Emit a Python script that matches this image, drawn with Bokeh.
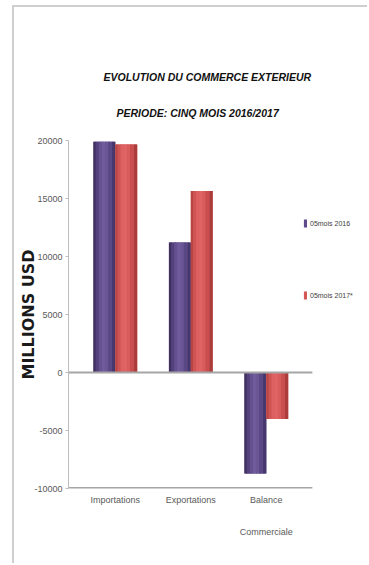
from bokeh.plotting import figure
from bokeh.models import (Range1d, LinearAxis, FixedTicker, Title,
                          Legend, LegendItem)
from bokeh.embed import file_html
from bokeh.resources import INLINE

# Data (millions USD)
categories = ["Importations", "Exportations", "Balance"]
categories_line2 = ["", "", "Commerciale"]
series_names = ["05mois 2016", "05mois 2017*"]
values_2016 = [19900, 11200, -8700]
values_2017 = [19650, 15650, -4000]
y_ticks = [-10000, -5000, 0, 5000, 10000, 15000, 20000]
y_tick_labels = ["-10000", "-5000", "0", "5000", "10000", "15000", "20000"]

FONT = "Liberation Sans"
TICK_COLOR = "#595959"
LINE_GREY = "#a6a6a6"

# cylinder-like shading, left edge -> right edge
purple_base = "#5f4b8b"
red_base = "#d45656"
purple_shades = ["#3f305f", "#53417c", "#65518f", "#705c9c", "#6a5695", "#5a4885", "#46376c"]
red_shades = ["#b84444", "#cf5555", "#de6161", "#e06464", "#d95c5c", "#c94f4f", "#ab3c3c"]

# category axis spans x_lo..x_hi; the frame continues to the right to hold the legend
x_lo, x_hi = -0.62, 2.61
p = figure(width=355, height=558,
           x_range=Range1d(x_lo, 3.34), y_range=Range1d(-10000, 20000),
           x_axis_type=None, y_axis_type=None,
           output_backend="svg", toolbar_location=None,
           min_border_left=54, min_border_right=2,
           min_border_top=133, min_border_bottom=77)
p.outline_line_color = None
p.xgrid.visible = False
p.ygrid.visible = False
p.background_fill_color = "white"
p.border_fill_color = "white"
p.styles = {"margin-left": "12px", "margin-top": "5px",
            "border-left": "2px solid #cfcfcf", "border-top": "2px solid #cfcfcf"}

# bars: a solid base, then vertical strips on top for a rounded look
bar_w = 0.29
n = len(purple_shades)
strip_w = bar_w / n
xs = list(range(len(categories)))
renderers = []
for vals, base, shades, shift in ((values_2016, purple_base, purple_shades, -bar_w / 2),
                                  (values_2017, red_base, red_shades, bar_w / 2)):
    bx = [x + shift for x in xs]
    base_r = p.vbar(x=bx, width=bar_w, top=vals, bottom=0,
                    fill_color=base, line_color=None)
    renderers.append(base_r)
    for i, c in enumerate(shades):
        sx = [x + shift - bar_w / 2 + (i + 0.5) * strip_w for x in xs]
        p.vbar(x=sx, width=strip_w * (1.6 if 0 < i < n - 1 else 1.0), top=vals, bottom=0,
               fill_color=c, line_color=None)

# zero line and bottom baseline of the category axis
p.segment(x0=[x_lo, x_lo], y0=[0, -10000], x1=[x_hi, x_hi], y1=[0, -10000],
          line_color=LINE_GREY, line_width=[2, 3])

# y axis
yax = LinearAxis(ticker=FixedTicker(ticks=y_ticks),
                 major_label_overrides=dict(zip(y_ticks, y_tick_labels)))
yax.axis_label = "MILLIONS USD"
yax.axis_label_text_font = "DejaVu Sans"
yax.axis_label_text_font_style = "bold"
yax.axis_label_text_font_size = "16px"
yax.axis_label_text_color = "#1a1a1a"
yax.axis_label_standoff = -7
yax.axis_line_color = "#bdbdbd"
yax.major_tick_line_color = "#bdbdbd"
yax.major_tick_out = 3
yax.major_tick_in = 0
yax.minor_tick_line_color = None
yax.major_label_text_font = FONT
yax.major_label_text_font_size = "9px"
yax.major_label_text_color = TICK_COLOR
yax.major_label_standoff = 3
p.add_layout(yax, "left")

# x axis (first label line)
xax = LinearAxis(ticker=FixedTicker(ticks=xs),
                 major_label_overrides=dict(zip(xs, categories)))
xax.axis_line_color = None
xax.major_tick_line_color = None
xax.minor_tick_line_color = None
xax.major_label_text_font = FONT
xax.major_label_text_font_size = "9px"
xax.major_label_text_color = TICK_COLOR
xax.major_label_standoff = 0
p.add_layout(xax, "below")

# second label line
xax2 = LinearAxis(ticker=FixedTicker(ticks=xs),
                  major_label_overrides=dict(zip(xs, categories_line2)))
xax2.axis_line_color = None
xax2.major_tick_line_color = None
xax2.minor_tick_line_color = None
xax2.major_label_text_font = FONT
xax2.major_label_text_font_size = "9px"
xax2.major_label_text_color = TICK_COLOR
xax2.major_label_standoff = 13
p.add_layout(xax2, "below")

# titles
t2 = Title(text="PERIODE: CINQ MOIS 2016/2017", align="left", offset=48,
           text_font=FONT, text_font_style="bold italic",
           text_font_size="10.5px", text_color="#111111", standoff=44)
t1 = Title(text="EVOLUTION  DU  COMMERCE  EXTERIEUR", align="left", offset=35,
           text_font=FONT, text_font_style="bold italic",
           text_font_size="10.5px", text_color="#111111", standoff=0)
p.add_layout(t2, "above")
p.add_layout(t1, "above")

legend = Legend(items=[LegendItem(label=series_names[0], renderers=[renderers[0]]),
                       LegendItem(label=series_names[1], renderers=[renderers[1]])],
                location=(235, 188), orientation="vertical",
                glyph_width=4, glyph_height=10, label_height=10,
                label_standoff=3, spacing=62, padding=0, margin=0,
                border_line_color=None, background_fill_alpha=0,
                label_text_font=FONT, label_text_font_size="7px",
                label_text_color="#404040")
p.add_layout(legend)

open("out.html", "w").write(file_html(p, INLINE))
